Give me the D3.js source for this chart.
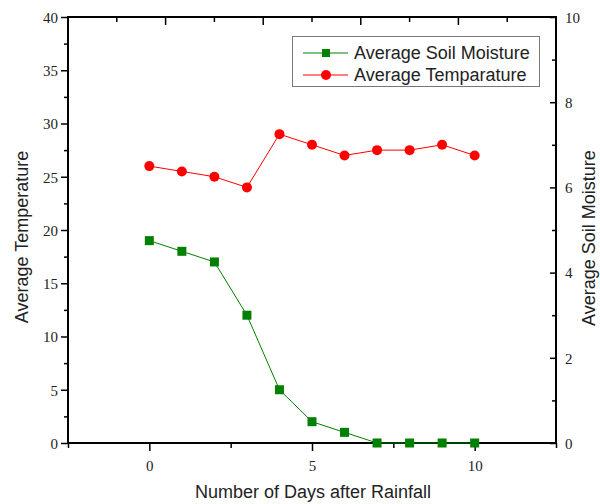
<!DOCTYPE html>
<html><head><meta charset="utf-8">
<script src="https://cdn.jsdelivr.net/npm/d3@7"></script>
<style>body{margin:0;background:#fff}</style>
</head><body>
<svg id="c" width="600" height="504"></svg>
<script>
const days = [0,1,2,3,4,5,6,7,8,9,10];
const temperature = [26,25.5,25,24,29,28,27,27.5,27.5,28,27];
const soilMoisture = [4.75,4.5,4.25,3,1.25,0.5,0.25,0,0,0,0];
const xTicks = [0,5,10];
const leftTicks = [0,5,10,15,20,25,30,35,40];
const rightTicks = [0,2,4,6,8,10];
const seriesNames = ["Average Soil Moisture","Average Temparature"];

const svg = d3.select("#c");
const L=68, R=556, T=17, B=443;
const x = d3.scaleLinear().domain([-2.5,12.5]).range([L,R]);
const yL = d3.scaleLinear().domain([0,40]).range([B,T]);
const yR = d3.scaleLinear().domain([0,10]).range([B,T]);

const serif = "'Liberation Serif','Times New Roman',serif";
const sans = "'Liberation Sans',Arial,sans-serif";

// frame
const g = svg.append("g");
function line(x1,y1,x2,y2,w){g.append("line").attr("x1",x1).attr("y1",y1).attr("x2",x2).attr("y2",y2).attr("stroke","#000").attr("stroke-width",w||1.5);}
line(L,B,R,B,2); line(L,T,R,T,2); line(L,T-1,L,B+1,2); line(R,T-1,R,B+1,2);

// bottom axis
const bx = svg.append("g").attr("transform",`translate(0,${B})`)
  .call(d3.axisBottom(x).tickValues(xTicks).tickSize(8).tickFormat(d3.format("d")));
bx.select(".domain").remove();
bx.selectAll("line").attr("stroke-width",1.5);
bx.selectAll("text").attr("font-family",serif).attr("font-size",15).attr("fill","#222").attr("dy","1.1em");
const bxm = svg.append("g").attr("transform",`translate(0,${B})`)
  .call(d3.axisBottom(x).tickValues([-2.5,2.5,7.5,12.5]).tickSize(5).tickFormat(""));
bxm.select(".domain").remove(); bxm.selectAll("line").attr("stroke-width",1.5);

// top ticks (inward)
const topVals = d3.range(0,9).map(k=>-1+1.5*k);
svg.append("g").selectAll("line").data(topVals).join("line")
  .attr("x1",d=>x(d)).attr("x2",d=>x(d)).attr("y1",T)
  .attr("y2",(d,i)=>T+(i%2?8:5)).attr("stroke","#000").attr("stroke-width",1.5);

// left axis
const ly = svg.append("g").attr("transform",`translate(${L},0)`)
  .call(d3.axisLeft(yL).tickValues(leftTicks).tickSize(7).tickFormat(d3.format("d")));
ly.select(".domain").remove();
ly.selectAll("line").attr("stroke-width",1.5);
ly.selectAll("text").attr("font-family",serif).attr("font-size",15).attr("fill","#222").attr("dy","0.35em");
const lym = svg.append("g").attr("transform",`translate(${L},0)`)
  .call(d3.axisLeft(yL).tickValues(d3.range(2.5,40,5)).tickSize(4).tickFormat(""));
lym.select(".domain").remove(); lym.selectAll("line").attr("stroke-width",1.5);

// right axis (ticks inward, labels outside)
const ry = svg.append("g").attr("transform",`translate(${R},0)`)
  .call(d3.axisRight(yR).tickValues(rightTicks).tickSize(-6).tickFormat(d3.format("d")));
ry.select(".domain").remove();
ry.selectAll("line").attr("stroke-width",1.5);
ry.selectAll("text").attr("font-family",serif).attr("font-size",15).attr("fill","#222").attr("dy","0.35em").attr("x",9);
const rym = svg.append("g").attr("transform",`translate(${R},0)`)
  .call(d3.axisRight(yR).tickValues([1,3,5,7,9]).tickSize(-4).tickFormat(""));
rym.select(".domain").remove(); rym.selectAll("line").attr("stroke-width",1.5);

// axis titles
svg.append("text").attr("x",313).attr("y",498).attr("text-anchor","middle")
  .attr("font-family",sans).attr("font-size",18).attr("fill","#222").text("Number of Days after Rainfall");
svg.append("text").attr("transform","translate(28,237) rotate(-90)").attr("text-anchor","middle")
  .attr("font-family",sans).attr("font-size",18).attr("fill","#222").text("Average Temperature");
svg.append("text").attr("transform","translate(595,238) rotate(-90)").attr("text-anchor","middle")
  .attr("font-family",sans).attr("font-size",18).attr("fill","#222").text("Average Soil Moisture");

// series
const green="#008000", red="#ff0000";
const tData = days.map((d,i)=>({x:d,y:temperature[i]}));
const mData = days.map((d,i)=>({x:d,y:soilMoisture[i]}));
svg.append("path").datum(mData).attr("fill","none").attr("stroke",green).attr("stroke-width",1)
  .attr("d",d3.line().x(d=>x(d.x)).y(d=>yR(d.y)));
svg.append("g").selectAll("rect").data(mData).join("rect")
  .attr("x",d=>x(d.x)-4.5).attr("y",d=>yR(d.y)-4.5).attr("width",9).attr("height",9).attr("fill",green);
svg.append("path").datum(tData).attr("fill","none").attr("stroke",red).attr("stroke-width",1)
  .attr("d",d3.line().x(d=>x(d.x)).y(d=>yL(d.y)));
svg.append("g").selectAll("circle").data(tData).join("circle")
  .attr("cx",d=>x(d.x)).attr("cy",d=>yL(d.y)).attr("r",5).attr("fill",red);

// legend
const lg = svg.append("g");
lg.append("rect").attr("x",292.5).attr("y",36.5).attr("width",247).attr("height",50)
  .attr("fill","#fff").attr("stroke","#777").attr("stroke-width",1);
[[green,"sq",53],[red,"c",75]].forEach(([col,shape,yy],i)=>{
  lg.append("line").attr("x1",303).attr("x2",348).attr("y1",yy).attr("y2",yy).attr("stroke",col).attr("stroke-width",1);
  if(shape==="sq") lg.append("rect").attr("x",322).attr("y",yy-4).attr("width",8).attr("height",8).attr("fill",col);
  else lg.append("circle").attr("cx",326).attr("cy",yy).attr("r",5).attr("fill",col);
  lg.append("text").attr("x",354).attr("y",yy).attr("dy","0.35em").attr("font-family",sans).attr("font-size",18).attr("fill","#222").text(seriesNames[i]);
});
</script>
</body></html>
